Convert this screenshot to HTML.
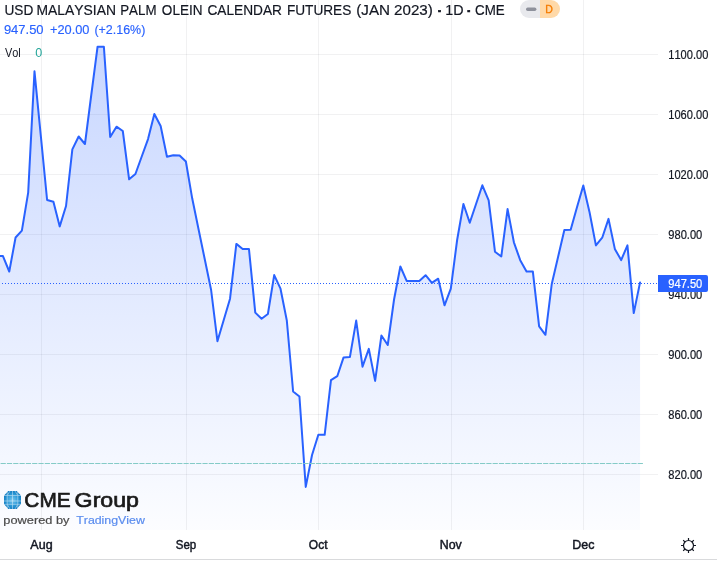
<!DOCTYPE html>
<html><head><meta charset="utf-8"><title>USD Malaysian Palm Olein Calendar Futures</title>
<style>
html,body{margin:0;padding:0;background:#fff;}
body{width:718px;height:564px;overflow:hidden;font-family:"Liberation Sans",sans-serif;}
svg{display:block}
svg text{font-family:"Liberation Sans",sans-serif;font-kerning:none;}
.grid line{stroke:rgba(20,20,30,0.06);stroke-width:1}
.ylab text{font-size:12px;fill:#131722;stroke:#131722;stroke-width:0.2px}

</style></head><body>
<svg width="718" height="564" viewBox="0 0 718 564">
<defs>
<linearGradient id="ag" x1="0" y1="0" x2="0" y2="530" gradientUnits="userSpaceOnUse">
<stop offset="0" stop-color="#2962FF" stop-opacity="0.28"/>
<stop offset="1" stop-color="#2962FF" stop-opacity="0.015"/>
</linearGradient>
<radialGradient id="gl" cx="12.5" cy="500" r="10" gradientUnits="userSpaceOnUse"><stop offset="0" stop-color="#7CC8EE"/><stop offset="0.55" stop-color="#2F9BD8"/><stop offset="1" stop-color="#0E78BE"/></radialGradient>
<clipPath id="pane"><rect x="0" y="0" width="658" height="530"/></clipPath>
</defs>
<rect width="718" height="564" fill="#fff"/>
<g class="grid"><line y1="0" y2="530" x1="41.5" x2="41.5"/><line y1="0" y2="530" x1="186.5" x2="186.5"/><line y1="0" y2="530" x1="318.5" x2="318.5"/><line y1="0" y2="530" x1="451.5" x2="451.5"/><line y1="0" y2="530" x1="583.5" x2="583.5"/><line x1="0" x2="658" y1="54.5" y2="54.5"/><line x1="0" x2="658" y1="114.5" y2="114.5"/><line x1="0" x2="658" y1="174.5" y2="174.5"/><line x1="0" x2="658" y1="234.5" y2="234.5"/><line x1="0" x2="658" y1="294.5" y2="294.5"/><line x1="0" x2="658" y1="354.5" y2="354.5"/><line x1="0" x2="658" y1="414.5" y2="414.5"/><line x1="0" x2="658" y1="474.5" y2="474.5"/></g>
<g clip-path="url(#pane)">
<path d="M-3.36,530 L-3.36,256 L2.95,256.1 L9.26,271.5 L15.57,237.5 L21.88,230.6 L28.18,192.6 L34.49,71.3 L40.8,135.6 L47.11,200 L53.42,201.8 L59.72,226.4 L66.03,206 L72.34,149.4 L78.65,136.5 L84.96,144 L91.26,95 L97.57,46.7 L103.88,46.7 L110.19,137 L116.5,126.7 L122.8,131 L129.11,179.3 L135.42,174 L141.73,156.5 L148.04,139.1 L154.34,114 L160.65,126 L166.96,156.7 L173.27,155.3 L179.58,155.5 L185.88,161.5 L192.19,198.3 L198.5,229 L204.81,259.5 L211.12,290 L217.42,341.2 L223.73,320 L230.04,298.7 L236.35,243.9 L242.66,249 L248.96,249 L255.27,312.6 L261.58,318.8 L267.89,314 L274.2,275.1 L280.5,288.7 L286.81,320.5 L293.12,391.5 L299.43,396.5 L305.74,486.9 L312.04,455 L318.35,434.8 L324.66,434.8 L330.97,380.1 L337.28,376.2 L343.58,357.4 L349.89,357.1 L356.2,320.6 L362.51,366.7 L368.82,348.9 L375.12,380.9 L381.43,335.5 L387.74,345 L394.05,299.5 L400.36,266.5 L406.66,280.9 L412.97,280.9 L419.28,280.9 L425.59,275.2 L431.9,282.9 L438.2,278.7 L444.51,305.3 L450.82,288.6 L457.13,240 L463.44,204 L469.74,222.8 L476.05,204 L482.36,185.3 L488.67,200.4 L494.98,251.7 L501.28,256.5 L507.59,209.1 L513.9,242.3 L520.21,260.2 L526.52,271.4 L532.82,271.4 L539.13,326.3 L545.44,334.8 L551.75,284 L558.06,257 L564.36,230 L570.67,229.7 L576.98,207.3 L583.29,185.5 L589.6,212.5 L595.9,245.4 L602.21,237.7 L608.52,218.9 L614.83,248.9 L621.14,260.1 L627.44,245.4 L633.75,313.1 L640.06,282.4 L640.06,530 Z" fill="url(#ag)"/>
<polyline points="-3.36,256 2.95,256.1 9.26,271.5 15.57,237.5 21.88,230.6 28.18,192.6 34.49,71.3 40.8,135.6 47.11,200 53.42,201.8 59.72,226.4 66.03,206 72.34,149.4 78.65,136.5 84.96,144 91.26,95 97.57,46.7 103.88,46.7 110.19,137 116.5,126.7 122.8,131 129.11,179.3 135.42,174 141.73,156.5 148.04,139.1 154.34,114 160.65,126 166.96,156.7 173.27,155.3 179.58,155.5 185.88,161.5 192.19,198.3 198.5,229 204.81,259.5 211.12,290 217.42,341.2 223.73,320 230.04,298.7 236.35,243.9 242.66,249 248.96,249 255.27,312.6 261.58,318.8 267.89,314 274.2,275.1 280.5,288.7 286.81,320.5 293.12,391.5 299.43,396.5 305.74,486.9 312.04,455 318.35,434.8 324.66,434.8 330.97,380.1 337.28,376.2 343.58,357.4 349.89,357.1 356.2,320.6 362.51,366.7 368.82,348.9 375.12,380.9 381.43,335.5 387.74,345 394.05,299.5 400.36,266.5 406.66,280.9 412.97,280.9 419.28,280.9 425.59,275.2 431.9,282.9 438.2,278.7 444.51,305.3 450.82,288.6 457.13,240 463.44,204 469.74,222.8 476.05,204 482.36,185.3 488.67,200.4 494.98,251.7 501.28,256.5 507.59,209.1 513.9,242.3 520.21,260.2 526.52,271.4 532.82,271.4 539.13,326.3 545.44,334.8 551.75,284 558.06,257 564.36,230 570.67,229.7 576.98,207.3 583.29,185.5 589.6,212.5 595.9,245.4 602.21,237.7 608.52,218.9 614.83,248.9 621.14,260.1 627.44,245.4 633.75,313.1 640.06,282.4" fill="none" stroke="#2962FF" stroke-width="2" stroke-linejoin="round" stroke-linecap="round"/>
<line x1="0.6" x2="643.1" y1="463.5" y2="463.5" stroke="#84CBC7" stroke-width="1" stroke-dasharray="5.2 1.108"/>
<line x1="2" x2="658" y1="283.5" y2="283.5" stroke="#2962FF" stroke-width="1" stroke-dasharray="1 2"/>
</g>
<g class="ylab"><text x="668.3" y="58.9" textLength="40" lengthAdjust="spacingAndGlyphs">1100.00</text><text x="668.3" y="118.9" textLength="40" lengthAdjust="spacingAndGlyphs">1060.00</text><text x="668.3" y="178.9" textLength="40" lengthAdjust="spacingAndGlyphs">1020.00</text><text x="668.3" y="238.9" textLength="34" lengthAdjust="spacingAndGlyphs">980.00</text><text x="668.3" y="298.9" textLength="34" lengthAdjust="spacingAndGlyphs">940.00</text><text x="668.3" y="358.9" textLength="34" lengthAdjust="spacingAndGlyphs">900.00</text><text x="668.3" y="418.9" textLength="34" lengthAdjust="spacingAndGlyphs">860.00</text><text x="668.3" y="478.9" textLength="34" lengthAdjust="spacingAndGlyphs">820.00</text></g>
<path d="M658 275H706A2 2 0 0 1 708 277V290A2 2 0 0 1 706 292H658Z" fill="#2962FF"/>
<text x="668.3" y="288" font-size="12" fill="#fff" stroke="#fff" stroke-width="0.2" textLength="34" lengthAdjust="spacingAndGlyphs">947.50</text>
<g class="xlab"><text x="30.38" y="548.8" font-size="12.2" fill="#131722" stroke="#131722" stroke-width="0.45" textLength="22.23" lengthAdjust="spacingAndGlyphs">Aug</text><text x="175.78" y="548.8" font-size="12.2" fill="#131722" stroke="#131722" stroke-width="0.45" textLength="20.51" lengthAdjust="spacingAndGlyphs">Sep</text><text x="308.83" y="548.8" font-size="12.2" fill="#131722" stroke="#131722" stroke-width="0.45" textLength="18.66" lengthAdjust="spacingAndGlyphs">Oct</text><text x="439.78" y="548.8" font-size="12.2" fill="#131722" stroke="#131722" stroke-width="0.45" textLength="22.06" lengthAdjust="spacingAndGlyphs">Nov</text><text x="572.38" y="548.8" font-size="12.2" fill="#131722" stroke="#131722" stroke-width="0.45" textLength="22.15" lengthAdjust="spacingAndGlyphs">Dec</text></g>
<line x1="0" x2="717" y1="559.5" y2="559.5" stroke="#D9DADC" stroke-width="1"/>
<!-- gear -->
<g transform="translate(688.5 545.5)" stroke="#131722" stroke-width="1.2" fill="none" stroke-linecap="butt">
<circle r="5"/>
<path d="M0-5V-7.5M0 5V7.5M-5 0H-7.5M5 0H7.5M3.54-3.54L5.3-5.3M-3.54-3.54L-5.3-5.3M3.54 3.54L5.3 5.3M-3.54 3.54L-5.3 5.3"/>
</g>
<!-- header -->
<text x="4.45" y="14.8" font-size="15.5" fill="#131722" stroke="#131722" stroke-width="0.2" textLength="28.81" lengthAdjust="spacingAndGlyphs">USD</text><text x="36.46" y="14.8" font-size="15.5" fill="#131722" stroke="#131722" stroke-width="0.2" textLength="79.47" lengthAdjust="spacingAndGlyphs">MALAYSIAN</text><text x="120.21" y="14.8" font-size="15.5" fill="#131722" stroke="#131722" stroke-width="0.2" textLength="36.29" lengthAdjust="spacingAndGlyphs">PALM</text><text x="161.86" y="14.8" font-size="15.5" fill="#131722" stroke="#131722" stroke-width="0.2" textLength="40.65" lengthAdjust="spacingAndGlyphs">OLEIN</text><text x="207.41" y="14.8" font-size="15.5" fill="#131722" stroke="#131722" stroke-width="0.2" textLength="74.53" lengthAdjust="spacingAndGlyphs">CALENDAR</text><text x="286.88" y="14.8" font-size="15.5" fill="#131722" stroke="#131722" stroke-width="0.2" textLength="64.45" lengthAdjust="spacingAndGlyphs">FUTURES</text><text x="356.26" y="14.8" font-size="15.5" fill="#131722" stroke="#131722" stroke-width="0.2" textLength="33.78" lengthAdjust="spacingAndGlyphs">(JAN</text><text x="394.04" y="14.8" font-size="15.5" fill="#131722" stroke="#131722" stroke-width="0.2" textLength="38.8" lengthAdjust="spacingAndGlyphs">2023)</text><text x="435.91" y="14.8" font-size="15.5" fill="#131722" stroke="#131722" stroke-width="0.6" textLength="6.99" lengthAdjust="spacingAndGlyphs">·</text><text x="445.21" y="14.8" font-size="15.5" fill="#131722" stroke="#131722" stroke-width="0.2" textLength="18.27" lengthAdjust="spacingAndGlyphs">1D</text><text x="465.31" y="14.8" font-size="15.5" fill="#131722" stroke="#131722" stroke-width="0.6" textLength="6.99" lengthAdjust="spacingAndGlyphs">·</text><text x="475.12" y="14.8" font-size="15.5" fill="#131722" stroke="#131722" stroke-width="0.2" textLength="29.65" lengthAdjust="spacingAndGlyphs">CME</text>
<text x="3.89" y="33.7" font-size="13" fill="#2962FF" stroke="#2962FF" stroke-width="0.15" textLength="39.72" lengthAdjust="spacingAndGlyphs">947.50</text><text x="49.97" y="33.7" font-size="13" fill="#2962FF" stroke="#2962FF" stroke-width="0.15" textLength="39.53" lengthAdjust="spacingAndGlyphs">+20.00</text><text x="94.43" y="33.7" font-size="13" fill="#2962FF" stroke="#2962FF" stroke-width="0.15" textLength="50.95" lengthAdjust="spacingAndGlyphs">(+2.16%)</text>
<text x="5" y="56.7" font-size="13" fill="#131722" textLength="15.8" lengthAdjust="spacingAndGlyphs">Vol</text>
<text x="35.2" y="56.8" font-size="12.5" fill="#26A69A" textLength="7" lengthAdjust="spacingAndGlyphs">0</text>
<!-- pill -->
<path d="M529 0H540V18H529A9 9 0 0 1 529 0Z" fill="#E8E9ED"/>
<path d="M540 0H551A9 9 0 0 1 551 18H540Z" fill="#FFD9A8"/>
<rect x="526" y="7.5" width="10.4" height="3.4" rx="1.7" fill="#8E919C"/>
<text x="545.3" y="13" font-size="11" fill="#F57C00" stroke="#F57C00" stroke-width="0.35" textLength="7.6" lengthAdjust="spacingAndGlyphs">D</text>
<!-- logo -->
<g id="logo">
<polygon points="8.3,491 16.7,491 21,495.6 21,504 16.7,508.9 8.3,508.9 4,504 4,495.6" fill="url(#gl)"/>
<g stroke="#fff" stroke-width="0.7" fill="none" opacity="0.6">
<path d="M12.5 491V509M7.2 492V508M17.8 492V508M4 495.5H21M4 501H21M4 504.3H21"/>
<path d="M10 491L7.2 495.5M15 491L17.8 495.5M10 509L7.2 504.3M15 509L17.8 504.3"/>
</g>
<text x="24.34" y="506.6" font-size="21" fill="#1A1A1A" stroke="#1A1A1A" stroke-width="0.7" textLength="46.36" lengthAdjust="spacingAndGlyphs">CME</text>
<text x="74.64" y="506.6" font-size="21" fill="#1A1A1A" stroke="#1A1A1A" stroke-width="0.7" textLength="64.34" lengthAdjust="spacingAndGlyphs">Group</text>
<text x="3.38" y="523.5" font-size="11.5" fill="#4A4A4A" stroke="#4A4A4A" stroke-width="0.2" textLength="66.15" lengthAdjust="spacingAndGlyphs">powered by</text>
<text x="76.22" y="523.5" font-size="11.5" fill="#5B8DEF" stroke="#5B8DEF" stroke-width="0.2" textLength="68.65" lengthAdjust="spacingAndGlyphs">TradingView</text>
</g>
</svg>
</body></html>
